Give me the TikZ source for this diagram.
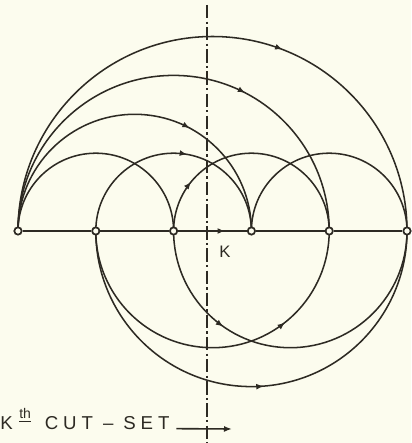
\documentclass[tikz,border=0pt]{standalone}
\usepackage{fontspec}
\setmainfont{Liberation Sans}
\usetikzlibrary{arrows.meta, decorations.markings, calc}
\definecolor{ink}{RGB}{45,42,35}
\definecolor{paper}{RGB}{252,252,238}
\pgfdeclarelayer{bg}
\pgfdeclarelayer{edges}
\pgfsetlayers{bg,edges,main}
\tikzstyle{vertex} = [circle, draw=ink, fill=paper, line width=1.3pt, inner sep=0pt, minimum size=5.5pt]
\tikzstyle{branch} = [draw=ink, line width=1.15pt]
\tikzstyle{spine} = [draw=ink, line width=1.7pt]
\tikzstyle{cutline} = [draw=ink, line width=1.8pt, dash pattern=on 10pt off 2.4pt on 1.8pt off 2.4pt]
\tikzstyle{arrow} = [draw=ink, line width=1.2pt, -{Latex[length=6pt, width=4.5pt]}]
\tikzset{flow at/.style={postaction={decorate}, decoration={markings, mark=at position #1 with {\arrow[ink]{Latex[length=5.5pt, width=4.5pt]}}}}}

\begin{document}
\begin{tikzpicture}[x=0.75pt, y=0.75pt, every node/.style={text=ink}]
  \begin{pgfonlayer}{bg}
    \fill[paper] (0,0) rectangle (411,443);
  \end{pgfonlayer}
  \useasboundingbox (0,0) rectangle (411,443);

  % vertices on the main line
  \foreach \i in {0,...,5}
    \node[vertex] (n\i) at ({18+77.8*\i}, 212) {};

  % ends of the cut line
  \coordinate (cuttop) at (207,438);
  \coordinate (cutbot) at (207,0);

  \begin{pgfonlayer}{edges}
    % main line
    \draw[spine] (n0) -- (n1) -- (n2);
    \draw[spine, flow at=0.68] (n2) -- (n3);
    \draw[spine] (n3) -- (n4) -- (n5);

    % branches above the line
    \foreach \a/\b/\f in {0/5/0.617, 0/4/0.652, 0/3/0.656, 1/3/0.555, 2/4/0.217}
      \draw[branch, flow at=\f] let \p1=($(n\b)-(n\a)$) in
        (n\a.center) arc[start angle=180, end angle=0, radius=0.5*\x1];
    \foreach \a/\b in {0/2, 3/5}
      \draw[branch] let \p1=($(n\b)-(n\a)$) in
        (n\a.center) arc[start angle=180, end angle=0, radius=0.5*\x1];

    % branches below the line
    \foreach \a/\b/\f in {1/4/0.713, 2/5/0.305, 1/5/0.525}
      \draw[branch, flow at=\f] let \p1=($(n\b)-(n\a)$) in
        (n\a.center) arc[start angle=180, end angle=360, radius=0.5*\x1];

    % cut-set
    \draw[cutline] (cuttop) -- (cutbot);
  \end{pgfonlayer}

  % labels
  \node[font=\fontsize{12.5}{14}\selectfont] (klbl) at (225,191) {K};
  \node[anchor=base west, inner sep=0pt, font=\fontsize{14}{16}\selectfont] (cutlbl) at (0,13)
    {K\hspace{0.35em}\raisebox{0.6em}{\underline{\fontsize{10.5}{11}\selectfont th}}\hspace{0.75em}\addfontfeature{LetterSpace=26}CUT -- SET};
  \coordinate (cutend) at (232,14);
  \draw[arrow] ([xshift=5pt, yshift=1pt]cutlbl.base east) -- (cutend);
\end{tikzpicture}
\end{document}
